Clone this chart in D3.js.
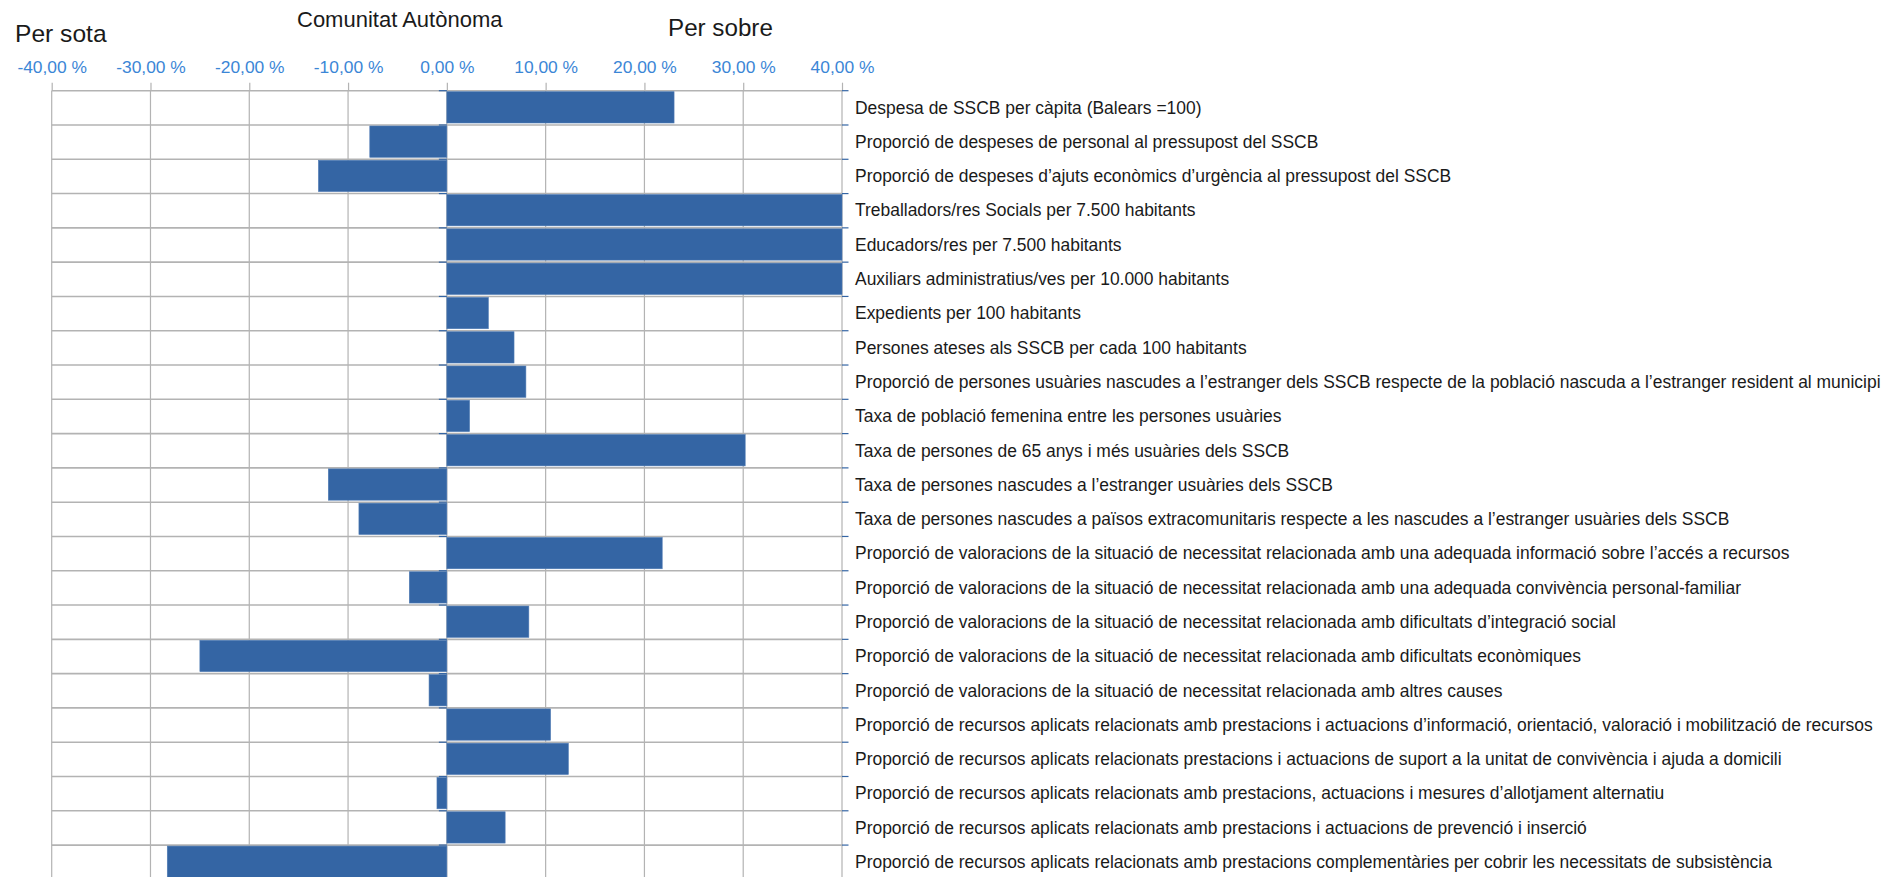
<!DOCTYPE html>
<html>
<head>
<meta charset="utf-8">
<script src="https://cdn.jsdelivr.net/npm/d3@7"></script>
<style>
  html, body { margin: 0; padding: 0; background: #fff; }
  svg { display: block; font-family: "Liberation Sans", Arial, sans-serif; }
</style>
</head>
<body>
<div id="chart"></div>
<script>
// Indicator names (top to bottom)
const categories = [
  "Despesa de SSCB per càpita (Balears =100)",
  "Proporció de despeses de personal al pressupost del SSCB",
  "Proporció de despeses d’ajuts econòmics d’urgència al pressupost del SSCB",
  "Treballadors/res Socials per 7.500 habitants",
  "Educadors/res per 7.500 habitants",
  "Auxiliars administratius/ves per 10.000 habitants",
  "Expedients per 100 habitants",
  "Persones ateses als SSCB per cada 100 habitants",
  "Proporció de persones usuàries nascudes a l’estranger dels SSCB respecte de la població nascuda a l’estranger resident al municipi",
  "Taxa de població femenina entre les persones usuàries",
  "Taxa de persones de 65 anys i més usuàries dels SSCB",
  "Taxa de persones nascudes a l’estranger usuàries dels SSCB",
  "Taxa de persones nascudes a països extracomunitaris respecte a les nascudes a l’estranger usuàries dels SSCB",
  "Proporció de valoracions de la situació de necessitat relacionada amb una adequada informació sobre l’accés a recursos",
  "Proporció de valoracions de la situació de necessitat relacionada amb una adequada convivència personal-familiar",
  "Proporció de valoracions de la situació de necessitat relacionada amb dificultats d’integració social",
  "Proporció de valoracions de la situació de necessitat relacionada amb dificultats econòmiques",
  "Proporció de valoracions de la situació de necessitat relacionada amb altres causes",
  "Proporció de recursos aplicats relacionats amb prestacions i actuacions d’informació, orientació, valoració i mobilització de recursos",
  "Proporció de recursos aplicats relacionats prestacions i actuacions de suport a la unitat de convivència i ajuda a domicili",
  "Proporció de recursos aplicats relacionats amb prestacions, actuacions i mesures d’allotjament alternatiu",
  "Proporció de recursos aplicats relacionats amb prestacions i actuacions de prevenció i inserció",
  "Proporció de recursos aplicats relacionats amb prestacions complementàries per cobrir les necessitats de subsistència"
];

// Deviation from the Comunitat Autònoma, in %
const deviation = [
  23.0, -7.8, -13.0, 40.0, 40.0, 40.0, 4.2, 6.8, 8.0, 2.3, 30.2, -12.0,
  -8.9, 21.8, -3.8, 8.3, -25.0, -1.8, 10.5, 12.3, -1.0, 5.9, -28.3
];

const xTicks = [-40, -30, -20, -10, 0, 10, 20, 30, 40];

const titleCenter = "Comunitat Autònoma";
const titleLeft = "Per sota";
const titleRight = "Per sobre";

// Layout
const width = 1901;
const height = 877;
const plotLeft = 51.7;
const plotRight = 842;
const plotTop = 90.7;
const rowStep = 34.29;
const plotBottom = plotTop + rowStep * categories.length;

const barColor = '#3465a4';
const gridColor = '#b3b3b3';
const tickLabelColor = '#3b86d6';
const textColor = '#1a1a1a';

const locale = d3.formatLocale({
  decimal: ',', thousands: '.', grouping: [3], currency: ['', ' €'], minus: '-'
});
const fmt = locale.format('.2f');

const svg = d3.select('#chart')
  .append('svg')
  .attr('width', width)
  .attr('height', height);

const x = d3.scaleLinear()
  .domain([-40, 40])
  .range([plotLeft, plotRight])
  .clamp(true);

const y = d3.scaleBand()
  .domain(categories)
  .range([plotTop, plotBottom])
  .padding(0);

// Vertical gridlines
svg.append('g')
  .attr('class', 'grid-x')
  .selectAll('line')
  .data(xTicks)
  .join('line')
  .attr('x1', d => x(d))
  .attr('x2', d => x(d))
  .attr('y1', plotTop)
  .attr('y2', plotBottom)
  .attr('stroke', gridColor)
  .attr('stroke-width', 1.2);

// Horizontal row separators
const boundaries = d3.range(categories.length + 1).map(i => plotTop + i * rowStep);
svg.append('g')
  .attr('class', 'grid-y')
  .selectAll('line')
  .data(boundaries)
  .join('line')
  .attr('x1', plotLeft)
  .attr('x2', plotRight)
  .attr('y1', d => d)
  .attr('y2', d => d)
  .attr('stroke', gridColor)
  .attr('stroke-width', 1.6);

// Bars
svg.append('g')
  .attr('class', 'bars')
  .selectAll('rect')
  .data(categories.map((c, i) => ({ name: c, value: deviation[i] })))
  .join('rect')
  .attr('x', d => x(Math.min(0, d.value)))
  .attr('y', d => y(d.name) + 1)
  .attr('width', d => Math.abs(x(d.value) - x(0)))
  .attr('height', y.bandwidth() - 3)
  .attr('fill', barColor)
  .attr('stroke', '#4f7bb4')
  .attr('stroke-width', 0.6);

// Top axis with tick labels
const xAxis = svg.append('g')
  .attr('transform', `translate(0,${plotTop})`)
  .call(d3.axisTop(x)
    .tickValues(xTicks)
    .tickSize(8)
    .tickPadding(9.5)
    .tickFormat(d => fmt(d) + ' %'));

xAxis.select('.domain').remove();
xAxis.selectAll('.tick line')
  .attr('stroke', gridColor)
  .attr('stroke-width', 1.2);
xAxis.selectAll('.tick text')
  .attr('fill', tickLabelColor)
  .attr('font-size', '17.4px')
  .attr('font-family', '"Liberation Sans", Arial, sans-serif');

// Small category ticks at the zero line and at the right edge
const tickGroup = svg.append('g').attr('class', 'cat-ticks');
tickGroup.selectAll('line.right')
  .data(boundaries)
  .join('line')
  .attr('class', 'right')
  .attr('x1', plotRight)
  .attr('x2', plotRight + 6.5)
  .attr('y1', d => d)
  .attr('y2', d => d)
  .attr('stroke', barColor)
  .attr('stroke-width', 1.2);
tickGroup.selectAll('line.zero')
  .data(boundaries)
  .join('line')
  .attr('class', 'zero')
  .attr('x1', x(0) - 8)
  .attr('x2', x(0))
  .attr('y1', d => d)
  .attr('y2', d => d)
  .attr('stroke', barColor)
  .attr('stroke-width', 1.2);

// Category labels on the right
const yAxis = svg.append('g')
  .attr('transform', `translate(${plotRight},0)`)
  .call(d3.axisRight(y).tickSize(0).tickPadding(13));

yAxis.select('.domain').remove();
yAxis.selectAll('.tick text')
  .attr('fill', textColor)
  .attr('font-size', '17.45px')
  .attr('font-family', '"Liberation Sans", Arial, sans-serif')
  .attr('dy', '0.33em');

// Titles
svg.append('text')
  .attr('x', 15)
  .attr('y', 42)
  .attr('font-size', '24.6px')
  .attr('fill', textColor)
  .text(titleLeft);

svg.append('text')
  .attr('x', 297)
  .attr('y', 27.3)
  .attr('font-size', '22px')
  .attr('fill', textColor)
  .text(titleCenter);

svg.append('text')
  .attr('x', 668)
  .attr('y', 36)
  .attr('font-size', '24.2px')
  .attr('fill', textColor)
  .text(titleRight);
</script>
</body>
</html>
